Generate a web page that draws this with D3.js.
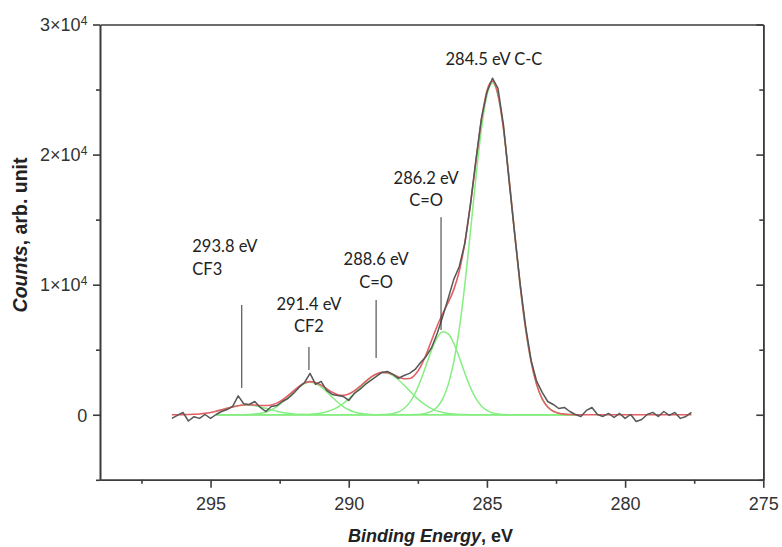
<!DOCTYPE html>
<html>
<head>
<meta charset="utf-8">
<script src="https://cdn.jsdelivr.net/npm/d3@7"></script>
<style>
  body { margin: 0; background: #fff; }
  svg { display: block; }
</style>
</head>
<body>
<svg id="chart" width="782" height="547"></svg>
<script>
// ---- C 1s spectrum: measured counts ----
const energy = [
  296.4, 296.2, 296.0, 295.8, 295.6, 295.4, 295.2, 295.0, 294.8, 294.6,
  294.4, 294.2, 294.0, 293.8, 293.6, 293.4, 293.2, 293.0, 292.8, 292.6,
  292.4, 292.2, 292.0, 291.8, 291.6, 291.4, 291.2, 291.0, 290.8, 290.6,
  290.4, 290.2, 290.0, 289.8, 289.6, 289.4, 289.2, 289.0, 288.8, 288.6,
  288.4, 288.2, 288.0, 287.8, 287.6, 287.4, 287.2, 287.0, 286.8, 286.6,
  286.4, 286.2, 286.0, 285.8, 285.6, 285.4, 285.2, 285.0, 284.8, 284.6,
  284.4, 284.2, 284.0, 283.8, 283.6, 283.4, 283.2, 283.0, 282.8, 282.6,
  282.4, 282.2, 282.0, 281.8, 281.6, 281.4, 281.2, 281.0, 280.8, 280.6,
  280.4, 280.2, 280.0, 279.8, 279.6, 279.4, 279.2, 279.0, 278.8, 278.6,
  278.4, 278.2, 278.0, 277.8, 277.6
];
const counts = [
  -280, -50, 180, -480, -150, -280, 20, -280, 20, 250,
  400, 640, 1450, 850, 790, 1020, 560, 250, 640, 710,
  1020, 1250, 1640, 2100, 2480, 3180, 2330, 2560, 1870, 1560,
  1480, 1410, 1100, 1640, 1950, 2330, 2640, 2950, 3250, 3330,
  3100, 2790, 3020, 3180, 3480, 4020, 4480, 5170, 6250, 7560,
  8950, 10410, 11400, 13180, 16100, 19560, 22780, 24790, 25870, 25100,
  22250, 18000, 14000, 10100, 6800, 4180, 2560, 1720, 1020, 790,
  480, 560, 250, 20, -130, 330, 560, 20, -130, 100,
  -210, 100, -280, 20, -520, -360, 20, 180, -130, 250,
  -50, 180, -280, -130, 180
];

// ---- fitted peak components (Gaussian) ----
const peakCenters = [293.7, 291.4, 288.75, 286.55, 284.8];
const peakHeights = [750, 2500, 3250, 6400, 25500];
const peakFwhm    = [1.8, 1.7, 2.1, 1.5, 1.72];
const fitRange    = [294.8, 281.8];

// ---- axes ----
const xDomain = [299, 275];
const yDomain = [-5000, 30000];
const xMajorTicks = [295, 290, 285, 280, 275];
const xMinorTicks = [297.5, 292.5, 287.5, 282.5, 277.5];
const yMajorTicks = [0, 10000, 20000, 30000];
const yMinorTicks = [-5000, 5000, 15000, 25000];
const xTitle = ["Binding Energy", ", eV"];
const yTitle = ["Counts", ", arb. unit"];

// ---- peak annotations ----
const annotationText = [
  ["284.5 eV C-C"],
  ["286.2 eV", "C=O"],
  ["288.6 eV", "C=O"],
  ["291.4 eV", "CF2"],
  ["293.8 eV", "CF3"]
];

const svg = d3.select("#chart");
const x = d3.scaleLinear().domain(xDomain).range([100, 763.3]);
const y = d3.scaleLinear().domain(yDomain).range([479.8, 24.5]);

const axisColor = "#3c3c3c";
const tickFont = "'Liberation Sans', Arial, sans-serif";

// Gaussian line shape of one component
function component(i, e) {
  const s = peakFwhm[i] / (2 * Math.sqrt(2 * Math.LN2));
  const d = e - peakCenters[i];
  return peakHeights[i] * Math.exp(-d * d / (2 * s * s));
}
function envelope(e) {
  let sum = 0;
  for (let i = 0; i < peakCenters.length; i++) sum += component(i, e);
  return sum;
}

const plot = svg.append("g");

// component curves
const fitEnergies = energy.filter(e => e <= fitRange[0] + 1e-9 && e >= fitRange[1] - 1e-9);
peakCenters.forEach((c, i) => {
  const line = d3.line()
    .x(e => x(e))
    .y(e => y(component(i, e)))
    .curve(d3.curveMonotoneX);
  plot.append("path")
    .datum(fitEnergies)
    .attr("d", line)
    .attr("fill", "none")
    .attr("stroke", "#86ee80")
    .attr("stroke-width", 1.5);
});

// cumulative fit
plot.append("path")
  .datum(energy)
  .attr("d", d3.line().x(e => x(e)).y(e => y(envelope(e))).curve(d3.curveMonotoneX))
  .attr("fill", "none")
  .attr("stroke", "#e25f63")
  .attr("stroke-width", 1.6);

// measured spectrum
plot.append("path")
  .datum(energy.map((e, i) => [e, counts[i]]))
  .attr("d", d3.line().x(d => x(d[0])).y(d => y(d[1])))
  .attr("fill", "none")
  .attr("stroke", "#575757")
  .attr("stroke-width", 1.5)
  .attr("stroke-linejoin", "round");

// ---- axes ----
function styleAxis(g) {
  g.selectAll("path.domain").attr("stroke", axisColor).attr("stroke-width", 1.6);
  g.selectAll(".tick line").attr("stroke", axisColor).attr("stroke-width", 1.6);
}

const xAxisY = y(yDomain[0]);
const gx = svg.append("g").attr("transform", `translate(0,${xAxisY})`)
  .call(d3.axisBottom(x).tickValues(xMajorTicks).tickSize(8).tickSizeOuter(0).tickPadding(9)
        .tickFormat(d3.format("d")));
gx.call(styleAxis);
gx.selectAll(".tick text").attr("font-family", tickFont).attr("font-size", 18).attr("fill", "#333");
const gxm = svg.append("g").attr("transform", `translate(0,${xAxisY})`)
  .call(d3.axisBottom(x).tickValues(xMinorTicks).tickSize(4).tickSizeOuter(0).tickFormat(""));
gxm.call(styleAxis);

const gy = svg.append("g").attr("transform", `translate(${x(xDomain[0])},0)`)
  .call(d3.axisLeft(y).tickValues(yMajorTicks).tickSize(7).tickSizeOuter(0).tickFormat(""));
gy.call(styleAxis);
const gym = svg.append("g").attr("transform", `translate(${x(xDomain[0])},0)`)
  .call(d3.axisLeft(y).tickValues(yMinorTicks).tickSize(4).tickSizeOuter(0).tickFormat(""));
gym.call(styleAxis);

// y tick labels in "n×10⁴" form
gy.selectAll(".tick").each(function(v) {
  const t = d3.select(this).append("text")
    .attr("x", -12.7).attr("dy", "0.35em")
    .attr("text-anchor", "end")
    .attr("font-family", tickFont).attr("font-size", 18).attr("fill", "#333");
  if (v === 0) {
    t.text("0");
  } else {
    t.append("tspan").text((v / 10000) + "×10");
    t.append("tspan").attr("dy", "-0.55em").attr("font-size", 12).text("4");
  }
});

// frame: top and right edges, inward ticks on the right
const gt = svg.append("g").attr("transform", `translate(0,${y(yDomain[1])})`)
  .call(d3.axisTop(x).tickValues([]).tickSizeOuter(0));
gt.call(styleAxis);
const gr = svg.append("g").attr("transform", `translate(${x(xDomain[1])},0)`)
  .call(d3.axisRight(y).tickValues(yMajorTicks).tickSize(-7).tickSizeOuter(0).tickFormat(""));
gr.call(styleAxis);
const grm = svg.append("g").attr("transform", `translate(${x(xDomain[1])},0)`)
  .call(d3.axisRight(y).tickValues(yMinorTicks).tickSize(-4).tickSizeOuter(0).tickFormat(""));
grm.call(styleAxis);

// axis titles
const xt = svg.append("text")
  .attr("x", 430.5).attr("y", 542)
  .attr("text-anchor", "middle")
  .attr("font-family", tickFont).attr("font-size", 18).attr("font-weight", "bold").attr("fill", "#222");
xt.append("tspan").attr("font-style", "italic").text(xTitle[0]);
xt.append("tspan").text(xTitle[1]);

const yt = svg.append("text")
  .attr("transform", "translate(27,235) rotate(-90)")
  .attr("text-anchor", "middle")
  .attr("font-family", tickFont).attr("font-size", 19.5).attr("font-weight", "bold").attr("fill", "#222");
yt.append("tspan").attr("font-style", "italic").text(yTitle[0]);
yt.append("tspan").text(yTitle[1]);

// ---- peak annotations (anchors in data units) ----
const labelLayout = [
  { ex: 284.745, anchor: "middle", rows: [26885], lead: null },
  { ex: 287.2,   anchor: "middle", rows: [17738, 16047], lead: [286.66, 15190, 6515] },
  { ex: 289.01,  anchor: "middle", rows: [11510, 9745],  lead: [289.01, 8820, 4365] },
  { ex: 291.44,  anchor: "middle", rows: [8050, 6365],   lead: [291.44, 5210, 3440] },
  { ex: 295.66,  anchor: "start",  rows: [12510, 10750], lead: [293.87, 8440, 2060] }
];
const annoFont = "Lato, 'Open Sans', sans-serif";
annotationText.forEach((lines, i) => {
  const L = labelLayout[i];
  lines.forEach((s, j) => {
    svg.append("text")
      .attr("x", x(L.ex)).attr("y", y(L.rows[j]))
      .attr("text-anchor", L.anchor)
      .attr("font-family", annoFont).attr("font-size", 16.5).attr("fill", "#222")
      .text(s);
  });
  if (L.lead) {
    svg.append("line")
      .attr("x1", x(L.lead[0])).attr("x2", x(L.lead[0]))
      .attr("y1", y(L.lead[1])).attr("y2", y(L.lead[2]))
      .attr("stroke", "#333").attr("stroke-width", 1);
  }
});
</script>
</body>
</html>
